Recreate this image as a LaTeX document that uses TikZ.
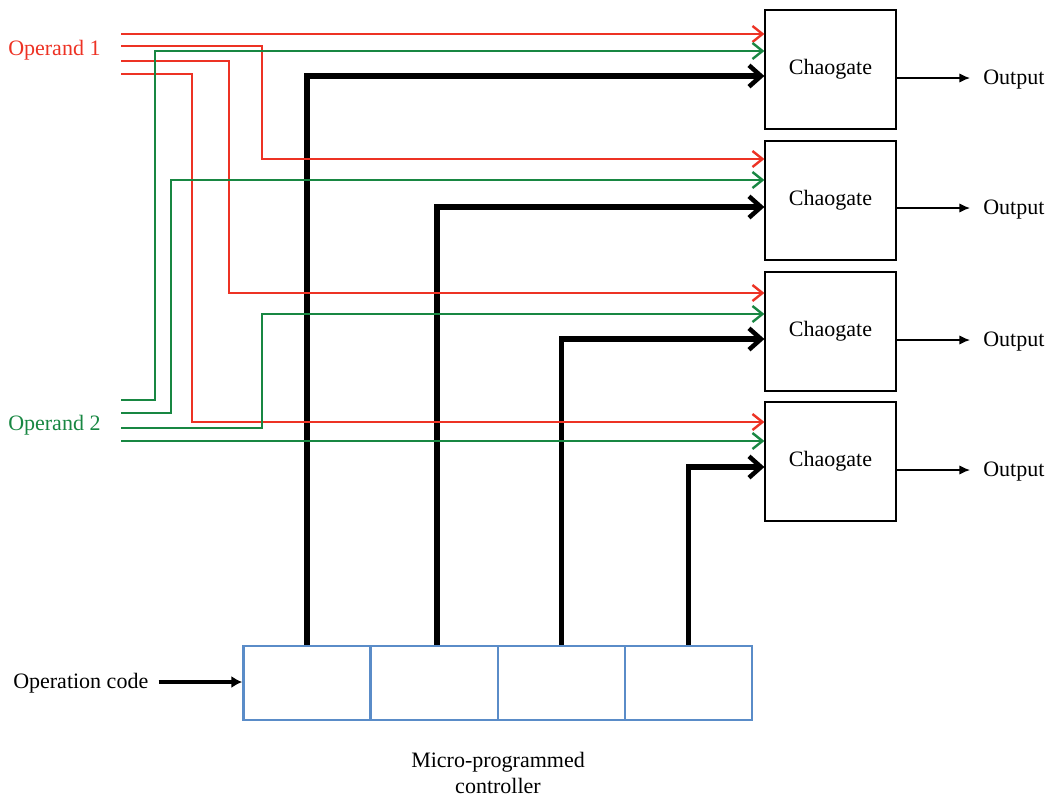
\documentclass[tikz,border=0pt]{standalone}
\usepackage{fontspec}
\setmainfont{Liberation Serif}
\usetikzlibrary{arrows.meta}
\definecolor{opred}{RGB}{237,50,36}
\definecolor{opgreen}{RGB}{24,135,66}
\definecolor{ctlblue}{RGB}{90,140,200}
\tikzset{
  x=0.75pt, y=-0.75pt,
  txt/.style={font=\fontsize{16.5}{19}\selectfont, inner sep=0pt},
  gate/.style={draw=black, line width=0.9pt, minimum width=98.25pt, minimum height=89.25pt, font=\fontsize{16.5}{19}\selectfont, inner sep=0pt},
  cell/.style={draw=ctlblue, line width=1.9pt, minimum width=95.4pt, minimum height=55.5pt, inner sep=0pt},
  redw/.style={draw=opred, line width=2.1pt, -{Straight Barb[length=7.5pt,width=12pt,line width=1.8pt]}},
  greenw/.style={draw=opgreen, line width=2.1pt, -{Straight Barb[length=7.5pt,width=12pt,line width=1.8pt]}},
  blackw/.style={draw=black, line width=4pt, -{Straight Barb[length=9pt,width=16pt,line width=3.4pt]}},
  outw/.style={draw=black, line width=1pt, -{Latex[length=8pt,width=7pt]}},
  opw/.style={draw=black, line width=3pt, -{Latex[length=8pt,width=9pt]}},
}
\begin{document}
\begin{tikzpicture}
\useasboundingbox (0,0) rectangle (1052,797);
% gates
\node[gate] (g1) at (830.5,69.5) {Chaogate};
\node[gate] (g2) at (830.5,200.5) {Chaogate};
\node[gate] (g3) at (830.5,331.5) {Chaogate};
\node[gate] (g4) at (830.5,461.5) {Chaogate};
% outputs
\foreach \i/\y in {1/78,2/208,3/340,4/470}{
  \node[txt, anchor=west, inner xsep=9.75pt] (o\i) at (970,\y+2) {Output};
  \draw[outw] (g\i.east |- 0,\y) -- (o\i.west |- 0,\y);
}
% controller
\node[cell] (c1) at (307,683) {};
\node[cell] (c2) at (434.5,683) {};
\node[cell] (c3) at (561.5,683) {};
\node[cell] (c4) at (688.5,683) {};
\node[txt, align=center, font=\fontsize{16.5}{19.5}\selectfont] (mpc) at (498,773) {Micro-programmed\\controller};
\node[txt, anchor=west, inner xsep=7.5pt] (opc) at (3,683) {Operation code};
\draw[opw] (opc.east |- 0,682) -- (c1.west |- 0,682);
% operand labels
\node[txt, text=opred, anchor=west] (op1) at (8,50) {Operand 1};
\node[txt, text=opgreen, anchor=west] (op2) at (8,425) {Operand 2};
% operand wire starts
\coordinate (r1) at (121,34);
\coordinate (r2) at (121,46);
\coordinate (r3) at (121,61);
\coordinate (r4) at (121,74);
\coordinate (q1) at (121,400);
\coordinate (q2) at (121,413);
\coordinate (q3) at (121,428);
\coordinate (q4) at (121,441);
% black control wires
\draw[blackw] (c1.north) |- (g1.west |- 0,76);
\draw[blackw] (c2.north -| 437,0) |- (g2.west |- 0,207);
\draw[blackw] (c3.north) |- (g3.west |- 0,339);
\draw[blackw] (c4.north) |- (g4.west |- 0,467);
% red wires
\draw[redw] (r1) -- (g1.west |- r1);
\draw[redw] (r2) -- (262,46) |- (g2.west |- 0,159);
\draw[redw] (r3) -- (229,61) |- (g3.west |- 0,293);
\draw[redw] (r4) -- (192,74) |- (g4.west |- 0,422);
% green wires
\draw[greenw] (q1) -- (155,400) |- (g1.west |- 0,51);
\draw[greenw] (q2) -- (171,413) |- (g2.west |- 0,180);
\draw[greenw] (q3) -- (262,428) |- (g3.west |- 0,314);
\draw[greenw] (q4) -- (g4.west |- q4);
\end{tikzpicture}
\end{document}
